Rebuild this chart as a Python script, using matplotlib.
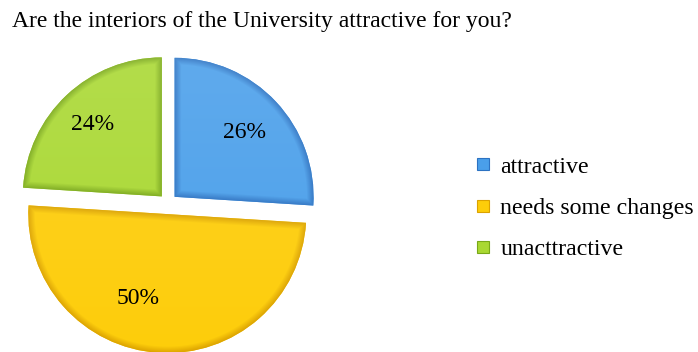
import numpy as np
import matplotlib.pyplot as plt
from matplotlib.lines import Line2D
from matplotlib.colors import to_rgb

categories = ["attractive", "needs some changes", "unacttractive"]
shares = [26, 50, 24]
explode = [0.065, 0.08, 0.065]
base_colors = ["#4a9fea", "#fdcd0a", "#a9d832"]
edge_colors = ["#2c72c2", "#dba200", "#79a818"]

W, H = 698, 352
plt.rcParams["font.family"] = ["Liberation Serif", "DejaVu Serif"]

fig = plt.figure(figsize=(W / 100, H / 100), dpi=100)
fig.patch.set_facecolor("white")
ax = fig.add_axes([0, 0, 1, 1])

cx, cy, r = 168, H - 203, 139
wedges, texts = ax.pie(
    shares,
    explode=[e * r for e in explode],
    colors=base_colors,
    startangle=90,
    counterclock=False,
    center=(cx, cy),
    radius=r,
    wedgeprops={"linewidth": 0},
)
ax.set_xlim(0, W)
ax.set_ylim(0, H)
ax.set_aspect("equal")
ax.axis("off")

# bevelled fill: flat colour that darkens within a few pixels of each slice border
yy, xx = np.mgrid[0:H:1.0, 0:W:1.0] + 0.5
bevel = 7.0
for w, c_edge, c_mid in zip(wedges, edge_colors, base_colors):
    x0, y0 = w.center
    dx, dy = xx - x0, yy - y0
    d_arc = r - np.hypot(dx, dy)
    dists = [d_arc]
    for th in (w.theta1, w.theta2):
        t = np.deg2rad(th)
        dists.append(np.abs(-dx * np.sin(t) + dy * np.cos(t)))
    d = np.clip(np.min(dists, axis=0) / bevel, 0, 1)
    # soft highlight towards the top of the slice
    lift = np.clip((yy - (y0 - r)) / (2 * r), 0, 1) * 0.12
    e, m = np.array(to_rgb(c_edge)), np.array(to_rgb(c_mid))
    img = e + (m - e) * d[..., None]
    img = np.clip(img + lift[..., None] * (1 - img), 0, 1)
    im = ax.imshow(img, origin="lower", extent=(0, W, 0, H),
                   zorder=w.get_zorder() + 0.1, interpolation="bilinear")
    im.set_clip_path(w)

# percentage labels inside the slices
label_pos = [(245, H - 132), (138, H - 298), (93, H - 124)]
for (lx, ly), v in zip(label_pos, shares):
    ax.text(lx, ly, f"{v}%", fontsize=17, ha="center", va="center",
            color="black", zorder=5)

fig.text(12 / W, 1 - 21 / H,
         "Are the interiors of the University attractive for you?",
         fontsize=17, ha="left", va="center")

handles = [Line2D([], [], marker="s", linestyle="none", markersize=9,
                  markerfacecolor=c, markeredgecolor=e, markeredgewidth=0.8)
           for c, e in zip(base_colors, edge_colors)]
fig.legend(handles, categories, loc="center left",
           bbox_to_anchor=(456 / W, 1 - 208 / H), frameon=False,
           fontsize=17.2, labelspacing=0.82, handletextpad=0.25,
           handlelength=0.9, borderpad=0.2)

fig.savefig("out.png", dpi=100)
